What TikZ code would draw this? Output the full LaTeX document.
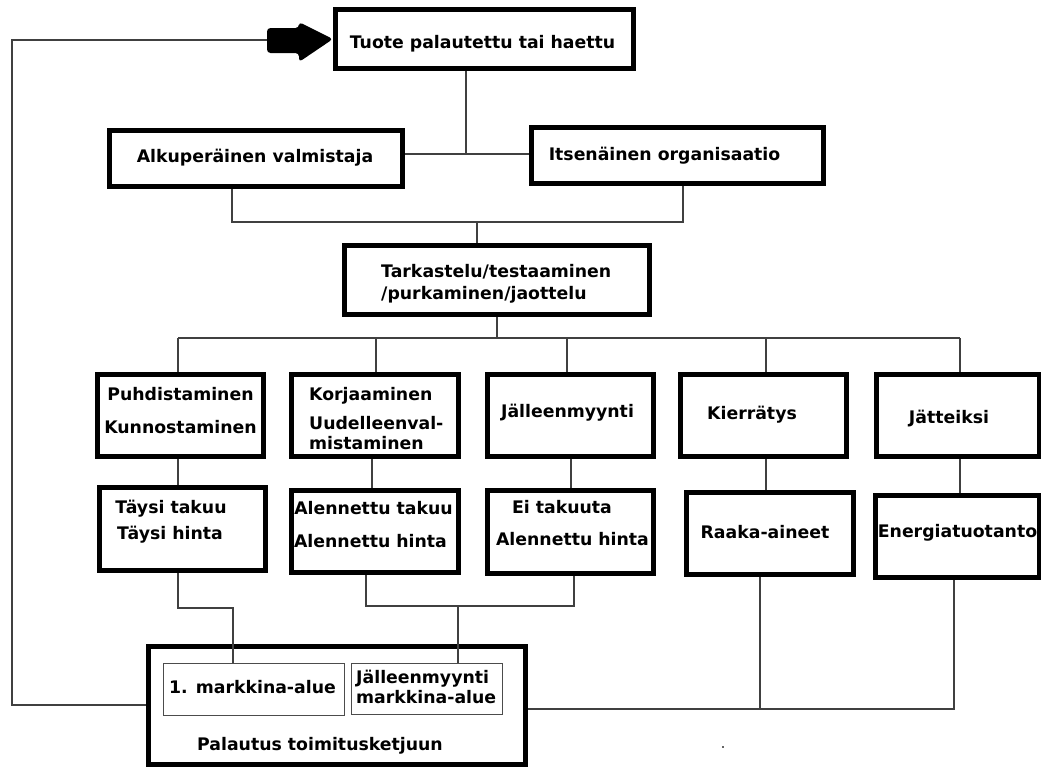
\documentclass[tikz,border=0pt]{standalone}
\usepackage{fontspec}
\setmainfont{DejaVu Sans}
\begin{document}
\begin{tikzpicture}[x=1pt,y=-1pt,
  box/.style={draw=black, line width=5pt, inner sep=0pt, fill=white},
  inbox/.style={draw=black!70, line width=1.2pt, inner sep=0pt},
  wire/.style={draw=black!75, line width=1.3pt},
  lbl/.style={font=\fontsize{17.3}{20}\selectfont\bfseries, inner sep=0pt,
              text height=12.4pt, text depth=0pt, text=black}]
\useasboundingbox (0,0) rectangle (1041,769);
\fill[white] (0,0) rectangle (1041,769);

% ---- boxes (outer extents minus the 5pt border) ----
\node[box, minimum width=298pt, minimum height=59pt] (top) at (484.5,39) {};
\node[box, minimum width=293pt, minimum height=56pt] (alk) at (256,158.5) {};
\node[box, minimum width=292pt, minimum height=56pt] (its) at (677.5,155.5) {};
\node[box, minimum width=305pt, minimum height=69pt] (tark) at (497,280) {};

\node[box, minimum width=166pt, minimum height=82pt] (puh) at (180.5,415.5) {};
\node[box, minimum width=167pt, minimum height=82pt] (kor) at (375,415.5) {};
\node[box, minimum width=166pt, minimum height=82pt] (jal) at (570.5,415.5) {};
\node[box, minimum width=166pt, minimum height=82pt] (kie) at (763.5,415.5) {};
\node[box, minimum width=163pt, minimum height=82pt] (jat) at (958,415.5) {};

\node[box, minimum width=166pt, minimum height=83pt] (tay) at (182.5,529) {};
\node[box, minimum width=167pt, minimum height=82pt] (ale) at (375,531.5) {};
\node[box, minimum width=166pt, minimum height=83pt] (ei)  at (570.5,532) {};
\node[box, minimum width=167pt, minimum height=82pt] (raa) at (770,533.5) {};
\node[box, minimum width=164pt, minimum height=82pt] (ene) at (957.5,536.5) {};

\node[box, minimum width=377pt, minimum height=118pt] (pal) at (337,705.5) {};
\node[inbox, minimum width=181pt, minimum height=52pt] (ma1) at (254,689.5) {};
\node[inbox, minimum width=151pt, minimum height=51pt] (ma2) at (427,689) {};

% ---- texts ----
\node[lbl] (ttop) at (482.5,42) {Tuote palautettu tai haettu};
\node[lbl] (talk) at (255,156) {Alkuperäinen valmistaja};
\node[lbl] (tits) at (664.5,154) {Itsenäinen organisaatio};
\node[lbl, anchor=west] (tta1) at (381,271) {Tarkastelu/testaaminen};
\node[lbl, anchor=west] (tta2) at (381,293) {/purkaminen/jaottelu};
\node[lbl] (tpu1) at (180.5,394) {Puhdistaminen};
\node[lbl] (tpu2) at (180.5,427) {Kunnostaminen};
\node[lbl, anchor=west] (tko1) at (309,394) {Korjaaminen};
\node[lbl, anchor=west] (tko2) at (309,423) {Uudelleenval-};
\node[lbl, anchor=west] (tko3) at (309,443) {mistaminen};
\node[lbl] (tjal) at (567.5,411) {Jälleenmyynti};
\node[lbl] (tkie) at (752,413) {Kierrätys};
\node[lbl] (tjat) at (949,417) {Jätteiksi};
\node[lbl] (tta3) at (171,507) {Täysi takuu};
\node[lbl] (tta4) at (170,533) {Täysi hinta};
\node[lbl] (tal1) at (373.5,508) {Alennettu takuu};
\node[lbl] (tal2) at (370.5,541) {Alennettu hinta};
\node[lbl] (tei1) at (562,507) {Ei takuuta};
\node[lbl] (tei2) at (572.5,539) {Alennettu hinta};
\node[lbl] (traa) at (765,532) {Raaka-aineet};
\node[lbl] (tene) at (957.5,531) {Energiatuotanto};
\node[lbl] (tma1) at (252.5,687) {1. markkina-alue};
\node[lbl, anchor=west] (tma2) at (356,677) {Jälleenmyynti};
\node[lbl, anchor=west] (tma3) at (356,697) {markkina-alue};
\node[lbl] (tpal) at (320,744) {Palautus toimitusketjuun};

% ---- junction points ----
\coordinate (c1) at (466,154);
\coordinate (c2) at (232,222);
\coordinate (c3) at (683,222);
\coordinate (c4) at (477,222);
\coordinate (c5) at (497,338);
\coordinate (b1) at (178,338);
\coordinate (b2) at (376,338);
\coordinate (b3) at (567,338);
\coordinate (b4) at (766,338);
\coordinate (b5) at (960,338);
\coordinate (v1) at (178,470);
\coordinate (v2) at (372,470);
\coordinate (v3) at (571,470);
\coordinate (v4) at (766,470);
\coordinate (v5) at (960,470);
\coordinate (d1) at (178,608);
\coordinate (d2) at (233,608);
\coordinate (e1) at (366,606);
\coordinate (e2) at (574,606);
\coordinate (e3) at (458,606);
\coordinate (f1) at (760,709);
\coordinate (f2) at (954,709);
\coordinate (fbL) at (12,705);
\coordinate (fbT) at (12,40);
\coordinate (tail) at (267,40);

% ---- connectors ----
\draw[wire] (top.south -| c1) -- (c1);
\draw[wire] (alk.east |- c1) -- (its.west |- c1);
\draw[wire] (alk.south -| c2) -- (c2) -- (c3) -- (its.south -| c3);
\draw[wire] (c4) -- (tark.north -| c4);
\draw[wire] (tark.south -| c5) -- (c5);
\draw[wire] (b1) -- (b5);
\draw[wire] (b1) -- (puh.north -| b1);
\draw[wire] (b2) -- (kor.north -| b2);
\draw[wire] (b3) -- (jal.north -| b3);
\draw[wire] (b4) -- (kie.north -| b4);
\draw[wire] (b5) -- (jat.north -| b5);
\draw[wire] (puh.south -| v1) -- (tay.north -| v1);
\draw[wire] (kor.south -| v2) -- (ale.north -| v2);
\draw[wire] (jal.south -| v3) -- (ei.north -| v3);
\draw[wire] (kie.south -| v4) -- (raa.north -| v4);
\draw[wire] (jat.south -| v5) -- (ene.north -| v5);
\draw[wire] (tay.south -| d1) -- (d1) -- (d2) -- (ma1.north -| d2);
\draw[wire] (ale.south -| e1) -- (e1) -- (e2) -- (ei.south -| e2);
\draw[wire] (e3) -- (ma2.north -| e3);
\draw[wire] (raa.south -| f1) -- (f1);
\draw[wire] (pal.east |- f1) -- (f2) -- (ene.south -| f2);
\draw[wire] (pal.west |- fbL) -- (fbL) -- (fbT) -- (tail);

% fat arrow pointing into the top box
\fill[black, rounded corners=3.5pt] (tail |- 0,28) -- (299,28) -- (299,22)
  -- (top.west) -- (299,62) -- (299,53) -- (tail |- 0,53) -- cycle;

% stray dot
\fill[black!60] (722,746) rectangle (724,748);
\end{tikzpicture}
\end{document}
